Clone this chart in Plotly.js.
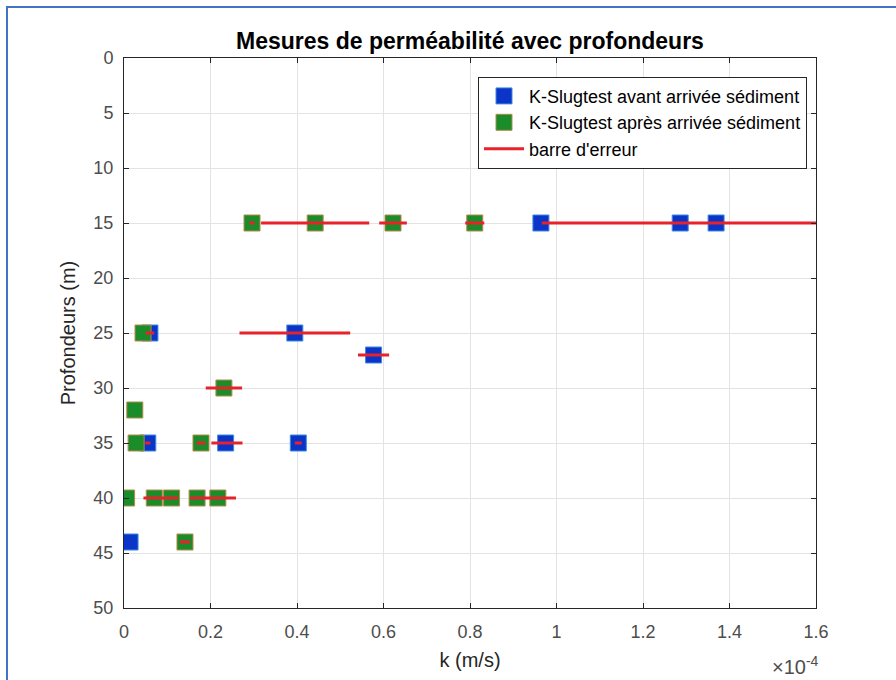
<!DOCTYPE html>
<html><head><meta charset="utf-8">
<script src="https://cdn.plot.ly/plotly-3.0.1.min.js"></script>
<style>
html,body{margin:0;padding:0;background:#fff;}
#wrap{position:relative;width:896px;height:680px;}
#chart{width:896px;height:680px;}
#frame{position:absolute;left:6px;top:6px;width:900px;height:690px;border-left:2px solid #4472c4;border-top:2px solid #4472c4;pointer-events:none;}
</style></head>
<body><div id="wrap"><div id="chart"></div><div id="frame"></div></div>
<script>
const SCALE = 1e-4;
// K-Slugtest avant arrivée sédiment (k in units of 1e-4 m/s, depth m)
const avantK = [0.964, 1.286, 1.369, 0.060, 0.395, 0.577, 0.055, 0.235, 0.403, 0.014];
const avantDepth = [15, 15, 15, 25, 25, 27, 35, 35, 35, 44];
// K-Slugtest après arrivée sédiment
const apresK = [0.296, 0.442, 0.622, 0.811, 0.044, 0.231, 0.025, 0.028, 0.178, 0.006, 0.070, 0.110, 0.169, 0.217, 0.141];
const apresDepth = [15, 15, 15, 15, 25, 30, 32, 35, 35, 40, 40, 40, 40, 40, 44];
// barre d'erreur: centre, profondeur, demi-largeur
const errCenter = [0.296, 0.442, 0.622, 0.811, 1.286, 0.060, 0.395, 0.577, 0.231, 0.055, 0.178, 0.238, 0.403, 0.085, 0.206, 0.141];
const errDepth  = [15, 15, 15, 15, 15, 25, 25, 27, 30, 35, 35, 35, 35, 40, 40, 44];
const errHalf   = [0.006, 0.125, 0.032, 0.022, 0.320, 0.010, 0.128, 0.036, 0.042, 0.006, 0.010, 0.036, 0.008, 0.040, 0.053, 0.012];
const xTicks = [0, 0.2, 0.4, 0.6, 0.8, 1, 1.2, 1.4, 1.6];
const yTicks = [0, 5, 10, 15, 20, 25, 30, 35, 40, 45, 50];

const ex = [], ey = [];
for (let i = 0; i < errCenter.length; i++) {
  ex.push((errCenter[i] - errHalf[i]) * SCALE, (errCenter[i] + errHalf[i]) * SCALE, null);
  ey.push(errDepth[i], errDepth[i], null);
}
const font = 'Liberation Sans, Arial, Helvetica, sans-serif';
const traces = [
  {type:'scatter', mode:'markers', name:'K-Slugtest avant arrivée sédiment',
   x: avantK.map(v => v * SCALE), y: avantDepth,
   marker:{symbol:'square', size:16, color:'#0a35c8', line:{color:'#3d8be0', width:1}}},
  {type:'scatter', mode:'markers', name:'K-Slugtest après arrivée sédiment',
   x: apresK.map(v => v * SCALE), y: apresDepth,
   marker:{symbol:'square', size:16, color:'#1a8c2a', line:{color:'#b58a4a', width:1}}},
  {type:'scatter', mode:'lines', name:"barre d'erreur", x: ex, y: ey,
   line:{color:'#e8222a', width:3}, connectgaps:false}
];
const layout = {
  width:896, height:680,
  margin:{l:124, r:80, t:58, b:72},
  paper_bgcolor:'#fff', plot_bgcolor:'#fff',
  font:{family:font, size:18, color:'#262626'},
  title:{text:'<b>Mesures de perméabilité avec profondeurs</b>', font:{family:font, size:23, color:'#000'}, xref:'paper', x:0.5, xanchor:'center', y:0.94, yanchor:'middle'},
  xaxis:{range:[0, 1.6 * SCALE], tickvals: xTicks.map(v => v * SCALE), ticktext: xTicks.map(String),
    showgrid:true, gridcolor:'#e3e3e3', gridwidth:1, zeroline:false,
    showline:true, linecolor:'#262626', linewidth:1, mirror:'allticks', ticks:'inside', ticklen:5, tickcolor:'#262626',
    tickfont:{size:18, color:'#4d4d4d'}, ticklabelstandoff:7,
    title:{text:'k (m/s)', font:{size:20, color:'#262626'}, standoff:12}},
  yaxis:{range:[50, 0], tickvals: yTicks,
    showgrid:true, gridcolor:'#e3e3e3', gridwidth:1, zeroline:false,
    showline:true, linecolor:'#262626', linewidth:1, mirror:'allticks', ticks:'inside', ticklen:5, tickcolor:'#262626',
    tickfont:{size:18, color:'#4d4d4d'}, ticklabelstandoff:6,
    title:{text:'Profondeurs (m)', font:{size:20, color:'#262626'}, standoff:12}},
  legend:{x:0.987, xanchor:'right', y:0.966, yanchor:'top', bgcolor:'#fff', bordercolor:'#262626', borderwidth:1,
    font:{size:18, color:'#000'}, tracegroupgap:0, itemwidth:40},
  annotations:[{xref:'paper', yref:'paper', x:0.97, y:-0.078, xanchor:'center', yanchor:'top', showarrow:false,
    text:'×10<sup>-4</sup>', font:{size:20, color:'#4d4d4d'}}],
  showlegend:true
};
Plotly.newPlot('chart', traces, layout, {displayModeBar:false, staticPlot:true});
</script></body></html>
